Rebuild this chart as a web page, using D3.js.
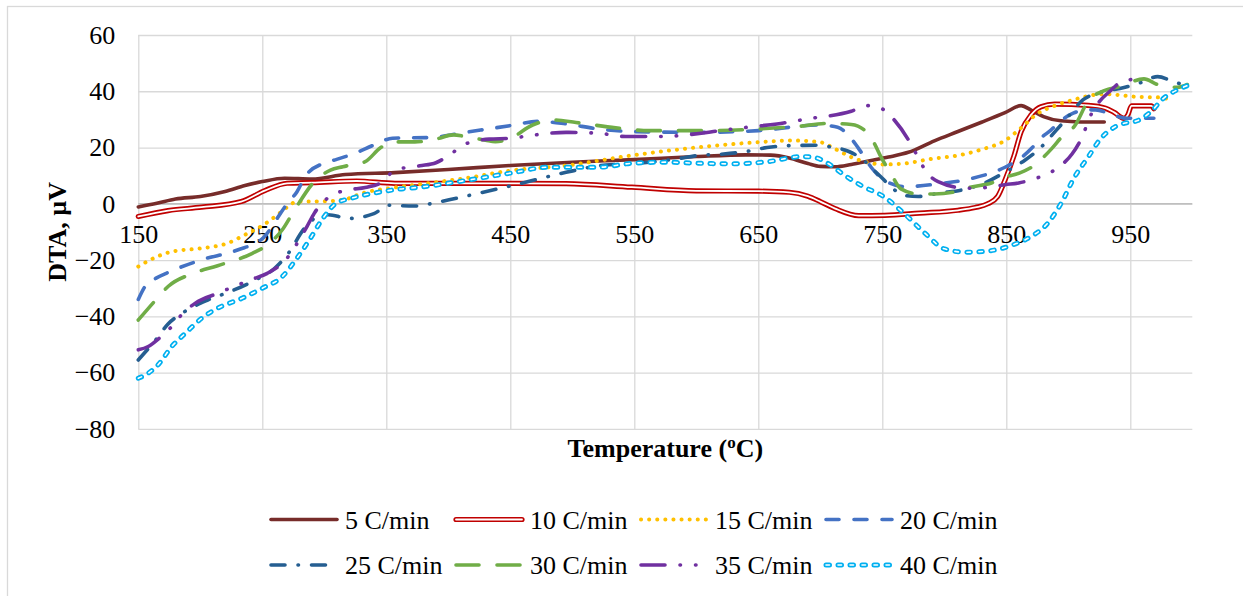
<!DOCTYPE html>
<html>
<head>
<meta charset="utf-8">
<script src="https://cdn.jsdelivr.net/npm/d3@7"></script>
<style>
  html, body { margin: 0; padding: 0; background: #fff; }
  svg { display: block; font-family: "Liberation Serif", "Times New Roman", serif; }
</style>
</head>
<body>
<svg id="chart" width="1243" height="596"></svg>
<script>
// DTA curves recorded at eight heating rates (temperature in °C, signal in µV)
const seriesNames = ["5 C/min", "10 C/min", "15 C/min", "20 C/min", "25 C/min", "30 C/min", "35 C/min", "40 C/min"];

const temp5 = [150,165,180,200,220,236,250,268,290,317,357,400,450,500,550,600,640,660,675,690,700,712,725,740,755,771,792,811,830,849,862,870,880,894,910,929];
const dta5  = [-1.1,0.2,1.7,2.6,4.4,6.5,7.9,9.1,8.8,10.4,11.1,12.2,13.6,14.8,15.7,16.8,17.4,17.3,16.3,14.3,13.3,13.2,14,15.3,16.6,18.3,22.4,25.7,29,32.4,34.9,33.3,31,29.5,29.1,29.1];

const temp10 = [150,174,201,233,252,270,290,326,357,400,450,495,548,600,650,675,690,700,712,731,752,780,811,825,835,843,849,856,862,870,878,889,916,930,937,945,948,951,967,969];
const dta10  = [-4.5,-2.4,-1.2,0.8,4.7,7.3,7.5,8.1,7.3,7.3,7.3,7.2,5.9,4.6,4.5,4.1,2.7,0.8,-1.7,-4.2,-4.1,-3.3,-2.3,-1.3,0,2.6,8.5,16.8,25.7,31.6,34.5,35.4,35,34,32.5,30.4,31.6,34.8,34.8,33.8];

const temp15 = [150,164,177,201,222,236,251,262,270,278,300,317,331,357,387,414,450,495,548,602,650,677,700,712,725,740,752,765,790,811,830,849,862,875,890,902,929,956,975,982];
const dta15  = [-22.3,-19,-17,-15.8,-14,-11,-7.5,-4,-1.2,0.8,0.9,1.6,3.8,5.8,7.5,9.1,11.8,13.6,17.2,20.1,21.9,22.5,21.9,19.5,16.6,14.5,14,14.2,16,17.2,19.3,22.5,27,32,35,36.7,39,38,37.8,36.8];

const temp20 = [150,156,164,174,201,230,251,258,263,270,278,285,300,310,325,340,355,387,414,450,473,495,521,548,602,650,698,714,725,733,741,752,768,795,821,849,861,871,878,886,893,904,914,922,936,947,969];
const dta20  = [-34,-29,-26.5,-24.4,-19.9,-16.4,-12,-8,-4.5,0,4.3,10,14.5,15.8,18,20.9,23.3,23.6,25.4,27.8,29.3,28.4,26.6,25.7,25.4,26,28,27.2,23.1,18.3,13,8.3,6.1,7.1,8.9,13,16,20,23.4,26.2,29.2,32.2,33.4,33.4,31.6,30.4,30.4];

const temp25 = [150,156,164,174,186,206,224,242,260,271,284,295,303,320,340,352,372,394,425,460,495,527,546,562,583,602,622,640,657,676,698,707,723,735,744,750,758,768,779,796,815,833,850,865,878,890,900,912,925,945,958,972,985,997];
const dta25  = [-55.5,-52.5,-48.4,-42.7,-38.7,-34.2,-31.2,-27.6,-22.9,-17.6,-8.7,-4.5,-3.9,-5.2,-3.5,-0.5,-0.8,0.8,3.8,7.4,11.2,13.8,14.2,14.8,15.9,17.2,17.7,18.6,20,20.7,20.8,20.3,18.6,15.5,11.6,9.1,5.6,3,2.6,3.8,5,7.5,11.5,15.5,20.1,26,31,37,39.5,41.3,43,45.2,43.4,41.7];

const temp30 = [150,164,174,193,214,242,254,266,276,292,305,315,333,345,355,373,390,404,414,430,438,450,468,484,503,535,562,602,650,682,706,725,736,743,749,757,765,779,792,811,821,838,849,861,871,887,895,905,916,929,942,961,972,988,996];
const dta30  = [-41.3,-34.2,-29.4,-24.9,-22,-17.6,-14.6,-9.3,-2.2,7.9,12,13.2,15,19.8,22,22,23,24.5,23.9,22.6,22.1,23.3,28,29.8,28.9,27,26,26,26.6,27.5,28.6,28.2,26,21.9,16.6,10.7,5.3,3.5,3.5,4.5,5.9,7.4,9.5,11,13.2,19.8,23.9,27.6,36.5,40.2,41.7,44.4,42.4,41.4,42.4];

const temp35 = [150,158,167,177,186,196,214,242,254,270,279,286,292,305,319,333,346,357,377,390,401,414,433,450,470,495,521,543,570,604,617,641,665,690,725,738,750,760,773,779,785,795,818,836,849,860,872,883,894,903,910,919,925,934,941,952,962];
const dta35  = [-51.9,-50.7,-47.7,-43.6,-38.9,-35.3,-31.8,-26.8,-24.7,-19.3,-13.4,-8.1,-3.3,2.8,4.9,5.8,7.5,12,13.5,14.6,17.4,21.3,23,23.3,24.5,25.4,25.1,23.9,23.9,25.1,25.9,27.2,28.4,30.2,32.9,34.9,33.7,29.6,21.3,16.4,11.7,7.9,5.5,5.9,6.8,7.4,8.8,10.6,13.6,17.7,22.7,32.3,36.3,40.2,42.9,44.3,45.2];

const temp40 = [150,158,166,177,188,201,214,234,250,266,277,288,299,309,322,340,360,377,414,450,481,521,548,575,602,628,658,685,696,706,720,733,752,768,785,800,817,835,854,870,883,894,905,916,926,937,945,956,966,977,988,996];
const dta40  = [-62,-60.2,-57.2,-50.7,-46,-40.7,-37.1,-33.5,-30,-25.9,-19.9,-12.8,-5.1,0,2,3.8,5.2,5.9,8.3,10.9,13,13,14.4,14.8,14.4,14.2,15,16.8,16.4,14.4,10,6.5,2.3,-3.6,-10.7,-16,-17.2,-16.8,-14.8,-11.6,-7.1,0,9.5,16.6,23.1,27.2,28.6,29.6,32.5,37.6,40.5,42];

const xTicks = [150, 250, 350, 450, 550, 650, 750, 850, 950];
const yTicks = [60, 40, 20, 0, -20, -40, -60, -80];

const temps = [temp5, temp10, temp15, temp20, temp25, temp30, temp35, temp40];
const dtas  = [dta5, dta10, dta15, dta20, dta25, dta30, dta35, dta40];

// Stroke styles for each heating rate; "inner" draws a white core for double lines
const styles = [
  { color: "#772C2A", width: 3.6 },
  { color: "#C00000", width: 5.2, inner: 1.8 },
  { color: "#FFC000", width: 4, dash: "0.1,8" },
  { color: "#4472C4", width: 3.6, dash: "13,15" },
  { color: "#255E91", width: 3.6, dash: "14,13,0.5,13" },
  { color: "#70AD47", width: 3.6, dash: "23,18" },
  { color: "#7030A0", width: 3.6, dash: "24,15,0.5,15,0.5,15" },
  { color: "#00B0F0", width: 5, dash: "3.5,8.5", inner: 1.6 }
];

const svg = d3.select("#chart");
const W = 1243, H = 596;
const plot = { left: 138.3, right: 1192.3, top: 35, bottom: 428.9 };

svg.append("rect").attr("width", W).attr("height", H).attr("fill", "#fff");
// chart area border
svg.append("rect")
  .attr("x", 7.5).attr("y", 6.5).attr("width", W + 20).attr("height", H + 20)
  .attr("fill", "none").attr("stroke", "#D9D9D9").attr("stroke-width", 1.3);

const x = d3.scaleLinear().domain([150, 1000]).range([plot.left, plot.right]);
const y = d3.scaleLinear().domain([-80, 60]).range([plot.bottom, plot.top]);

// gridlines
svg.append("g")
  .attr("transform", `translate(0,${plot.bottom})`)
  .call(d3.axisBottom(x).tickValues(xTicks).tickSize(-(plot.bottom - plot.top)).tickFormat(""))
  .call(g => g.select(".domain").remove())
  .call(g => g.selectAll("line").attr("stroke", "#D9D9D9").attr("stroke-width", 1.3));

svg.append("g")
  .attr("transform", `translate(${plot.left},0)`)
  .call(d3.axisLeft(y).tickValues(yTicks).tickSize(-(plot.right - plot.left)).tickFormat(""))
  .call(g => g.select(".domain").remove())
  .call(g => g.selectAll("line").attr("stroke", "#D9D9D9").attr("stroke-width", 1.3));

// horizontal axis crossing at zero
svg.append("line")
  .attr("x1", plot.left).attr("x2", plot.right)
  .attr("y1", y(0)).attr("y2", y(0))
  .attr("stroke", "#BFBFBF").attr("stroke-width", 1.5);

// tick labels
const xAxis = svg.append("g")
  .attr("transform", `translate(0,${y(0)})`)
  .call(d3.axisBottom(x).tickValues(xTicks).tickSize(0).tickPadding(21).tickFormat(d3.format("d")));
xAxis.select(".domain").remove();
xAxis.selectAll("text").attr("font-size", 26).attr("fill", "#000")
  .attr("font-family", "'Liberation Serif', 'Times New Roman', serif");

const yAxis = svg.append("g")
  .attr("transform", `translate(${plot.left},0)`)
  .call(d3.axisLeft(y).tickValues(yTicks).tickSize(0).tickPadding(23).tickFormat(d3.format("d")));
yAxis.select(".domain").remove();
yAxis.selectAll("text").attr("font-size", 26).attr("fill", "#000")
  .attr("font-family", "'Liberation Serif', 'Times New Roman', serif");

// axis titles
const xTitle = svg.append("text")
  .attr("x", (plot.left + plot.right) / 2).attr("y", 457)
  .attr("text-anchor", "middle").attr("font-size", 26).attr("font-weight", "bold").attr("fill", "#000");
xTitle.append("tspan").text("Temperature (");
xTitle.append("tspan").text("o").attr("font-size", 17).attr("dy", -9);
xTitle.append("tspan").text("C)").attr("dy", 9);

svg.append("text")
  .attr("transform", `translate(66,${(plot.top + plot.bottom) / 2}) rotate(-90)`)
  .attr("text-anchor", "middle").attr("font-size", 26).attr("font-weight", "bold").attr("fill", "#000")
  .text("DTA, µV");

// curves
const line = d3.line()
  .x(d => x(d[0]))
  .y(d => y(d[1]))
  .curve(d3.curveMonotoneX);

function strokePath(sel, st) {
  sel.attr("fill", "none")
    .attr("stroke", st.color)
    .attr("stroke-width", st.width)
    .attr("stroke-linecap", "round")
    .attr("stroke-linejoin", "round");
  if (st.dash) sel.attr("stroke-dasharray", st.dash);
}

const curves = svg.append("g");
seriesNames.forEach((name, i) => {
  const pts = temps[i].map((t, k) => [t, dtas[i][k]]);
  const st = styles[i];
  const p = curves.append("path").attr("d", line(pts));
  strokePath(p, st);
  if (st.inner) {
    const q = curves.append("path").attr("d", line(pts));
    strokePath(q, { color: "#fff", width: st.inner, dash: st.dash });
  }
});

// legend: two rows of four entries
const legendRows = [519.5, 565];
const legendCols = [269, 454, 639, 824];
const sampleLen = 70;
const legend = svg.append("g");
seriesNames.forEach((name, i) => {
  const lx = legendCols[i % 4];
  const ly = legendRows[Math.floor(i / 4)];
  const st = styles[i];
  const s = legend.append("line")
    .attr("x1", lx + 2).attr("x2", lx + sampleLen - 2).attr("y1", ly).attr("y2", ly);
  strokePath(s, st);
  if (st.inner) {
    const s2 = legend.append("line")
      .attr("x1", lx + 2).attr("x2", lx + sampleLen - 2).attr("y1", ly).attr("y2", ly);
    strokePath(s2, { color: "#fff", width: st.inner, dash: st.dash });
  }
  legend.append("text")
    .attr("x", lx + 76).attr("y", ly + 9)
    .attr("font-size", 26).attr("fill", "#000")
    .text(name);
});
</script>
</body>
</html>
